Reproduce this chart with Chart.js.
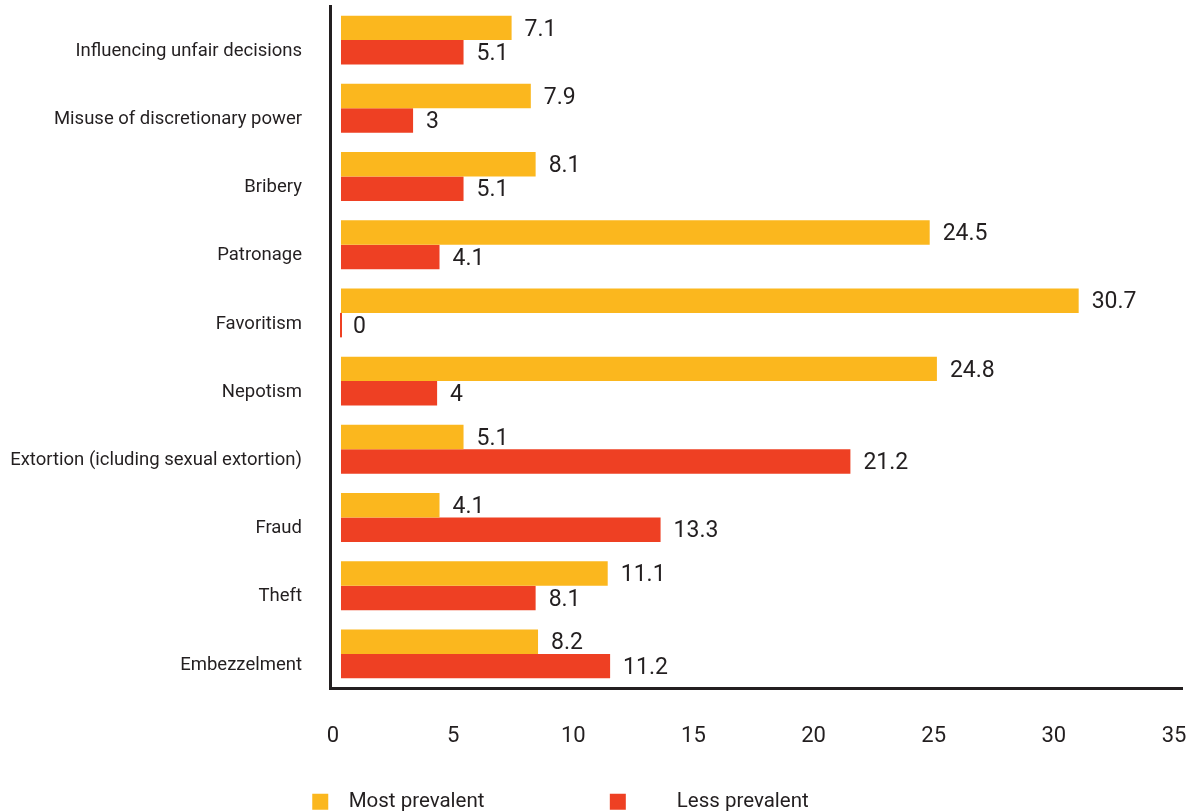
<!DOCTYPE html>
<html>
<head>
<meta charset="utf-8">
<script src="https://cdn.jsdelivr.net/npm/chart.js@4/dist/chart.umd.min.js"></script>
<style>
  html, body { margin: 0; padding: 0; background: #ffffff; overflow: hidden; }
  #wrap { position: relative; width: 1193px; height: 822px; }
</style>
</head>
<body>
<div id="wrap"><canvas id="c"></canvas></div>
<script>
const categories = [
  "Influencing unfair decisions",
  "Misuse of discretionary power",
  "Bribery",
  "Patronage",
  "Favoritism",
  "Nepotism",
  "Extortion (icluding sexual extortion)",
  "Fraud",
  "Theft",
  "Embezzelment"
];
const mostPrevalent = [7.1, 7.9, 8.1, 24.5, 30.7, 24.8, 5.1, 4.1, 11.1, 8.2];
const lessPrevalent = [5.1, 3, 5.1, 4.1, 0, 4, 21.2, 13.3, 8.1, 11.2];
const seriesNames = ["Most prevalent", "Less prevalent"];
const xTicks = [0, 5, 10, 15, 20, 25, 30, 35];

const FONT = "Roboto, 'Liberation Sans', sans-serif";
const TEXT = '#231f20';
const YELLOW = '#FBB71E';
const RED = '#EE4023';
const LEGEND_SIZE = 20.5;

function padText(text, leadPx, totalPx, size) {
  const ctx = document.createElement('canvas').getContext('2d');
  ctx.font = size + 'px ' + FONT;
  const sp = ctx.measureText(' ').width;
  const tw = ctx.measureText(text).width;
  const lead = Math.max(0, Math.round(leadPx / sp));
  const trail = Math.max(0, Math.round((totalPx - lead * sp - tw) / sp));
  return ' '.repeat(lead) + text + ' '.repeat(trail);
}

const valueLabels = {
  id: 'valueLabels',
  afterDatasetsDraw(chart) {
    const ctx = chart.ctx;
    ctx.save();
    ctx.font = '23px ' + FONT;
    ctx.fillStyle = TEXT;
    ctx.textAlign = 'left';
    ctx.textBaseline = 'middle';
    chart.data.datasets.forEach((ds, di) => {
      const meta = chart.getDatasetMeta(di);
      meta.data.forEach((bar, i) => {
        ctx.fillText(String(ds.data[i]), bar.x + 13, bar.y + 2);
      });
    });
    ctx.restore();
  }
};

new Chart(document.getElementById('c'), {
  type: 'bar',
  data: {
    labels: categories,
    datasets: [
      { label: seriesNames[0], data: mostPrevalent, backgroundColor: YELLOW, borderWidth: 0, minBarLength: 2 },
      { label: seriesNames[1], data: lessPrevalent, backgroundColor: RED, borderWidth: 0, minBarLength: 2 }
    ]
  },
  options: {
    indexAxis: 'y',
    responsive: true,
    maintainAspectRatio: false,
    animation: false,
    layout: { padding: { top: 6, right: 11, left: 0, bottom: 0 } },
    datasets: { bar: { barPercentage: 1, categoryPercentage: 0.717 } },
    scales: {
      x: {
        type: 'linear',
        min: -0.4576,
        max: 35,
        afterBuildTicks(scale) { scale.ticks = xTicks.map(v => ({ value: v })); },
        afterFit(scale) { scale.paddingLeft = 0; scale.paddingRight = 0; scale.height = 59.5; },
        grid: { display: false, drawTicks: false },
        border: { display: true, width: 3, color: TEXT },
        ticks: {
          font: { family: FONT, size: 22 },
          color: TEXT,
          padding: 35,
          labelOffset: -8,
          maxRotation: 0,
          autoSkip: false,
          callback: (v) => String(v)
        }
      },
      y: {
        type: 'category',
        offset: true,
        afterFit(scale) { scale.width = 330; scale.paddingTop = 0; scale.paddingBottom = 0; },
        grid: { display: false, drawTicks: false },
        border: { display: true, width: 3, color: TEXT },
        ticks: {
          font: { family: FONT, size: 18.5 },
          color: TEXT,
          padding: 28,
          labelOffset: 11,
          autoSkip: false
        }
      }
    },
    plugins: {
      tooltip: { enabled: false },
      legend: {
        position: 'bottom',
        labels: {
          boxWidth: 16,
          boxHeight: 16,
          padding: 44,
          color: TEXT,
          font: { family: FONT, size: LEGEND_SIZE },
          generateLabels(chart) {
            const base = Chart.defaults.plugins.legend.labels.generateLabels(chart);
            const cfg = [[9.75, 226.75], [38.75, 232.75]];
            return base.map((it, i) => {
              it.text = padText(it.text, cfg[i][0], cfg[i][1], LEGEND_SIZE);
              it.lineWidth = 0;
              return it;
            });
          }
        }
      }
    }
  },
  plugins: [valueLabels]
});
</script>
</body>
</html>
